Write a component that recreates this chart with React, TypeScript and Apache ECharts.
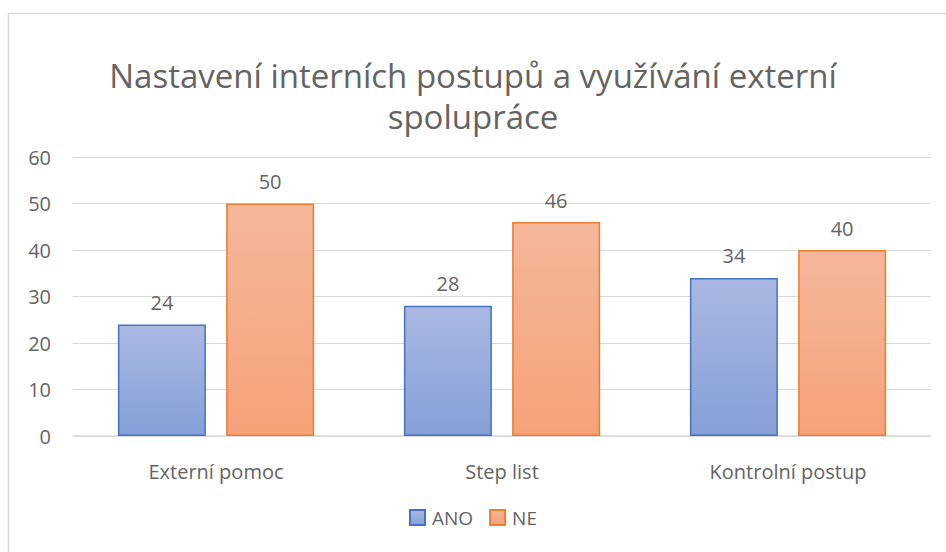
import React, { useEffect, useRef } from "react";
import * as echarts from "echarts";

const categories = ["Externí pomoc", "Step list", "Kontrolní postup"];
const anoValues = [24, 28, 34];
const neValues = [50, 46, 40];
const seriesNames = ["ANO", "NE"];
const titleText = "Nastavení interních postupů a využívání externí\nspolupráce";

export default function App() {
  const ref = useRef<HTMLDivElement>(null);
  useEffect(() => {
    if (!ref.current) return;
    const chart = echarts.init(ref.current, null, { renderer: "svg" });
    const font = "'Open Sans', 'Noto Sans', sans-serif";
    const textColor = "#646464";
    const grad = (top: string, bottom: string) =>
      new echarts.graphic.LinearGradient(0, 0, 0, 1, [
        { offset: 0, color: top },
        { offset: 1, color: bottom },
      ]);
    chart.setOption({
      animation: false,
      backgroundColor: "#ffffff",
      textStyle: { fontFamily: font },
      title: {
        text: titleText,
        left: "center",
        top: 50,
        textStyle: {
          fontFamily: font,
          fontSize: 33,
          fontWeight: "normal",
          color: textColor,
          lineHeight: 41,
        },
      },
      graphic: [
        {
          type: "rect",
          shape: { x: 8.5, y: 13.5, width: 960, height: 560 },
          style: { fill: "none", stroke: "#d9d9d9", lineWidth: 1.5 },
          silent: true,
        },
      ],
      legend: {
        bottom: 20,
        left: "center",
        itemWidth: 15,
        itemHeight: 15,
        itemGap: 16,
        icon: "rect",
        textStyle: { fontFamily: font, fontSize: 19, color: textColor, padding: [0, 0, 0, 2] },
        data: seriesNames,
      },
      grid: { left: 73, right: 15, top: 157, bottom: 116, containLabel: false },
      xAxis: {
        type: "category",
        data: categories,
        axisLine: { lineStyle: { color: "#d9d9d9", width: 1.5 } },
        axisTick: { show: false },
        axisLabel: { fontFamily: font, fontSize: 20, color: textColor, margin: 25 },
      },
      yAxis: {
        type: "value",
        min: 0,
        max: 60,
        interval: 10,
        axisLine: { show: false },
        axisTick: { show: false },
        splitLine: { lineStyle: { color: "#d9d9d9", width: 1 } },
        axisLabel: { fontFamily: font, fontSize: 20, color: textColor, margin: 22 },
      },
      series: [
        {
          name: seriesNames[0],
          type: "bar",
          data: anoValues,
          barWidth: 88,
          barGap: "23%",
          itemStyle: {
            color: grad("#aab8e1", "#859fd7"),
            borderColor: "#4472c4",
            borderWidth: 1.5,
          },
          label: { show: true, position: "top", distance: 12, fontFamily: font, fontSize: 20, color: textColor },
        },
        {
          name: seriesNames[1],
          type: "bar",
          data: neValues,
          barWidth: 88,
          itemStyle: {
            color: grad("#f5b79b", "#f6a278"),
            borderColor: "#ed7d31",
            borderWidth: 1.5,
          },
          label: { show: true, position: "top", distance: 12, fontFamily: font, fontSize: 20, color: textColor },
        },
      ],
    });
    return () => chart.dispose();
  }, []);
  return (
    <div
      ref={ref}
      style={{ position: "fixed", left: 0, top: 0, width: 946, height: 552 }}
    />
  );
}
